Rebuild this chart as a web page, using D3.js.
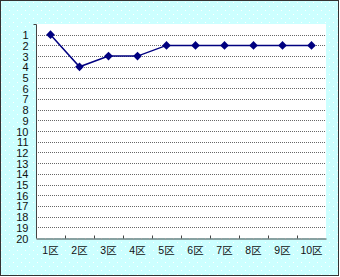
<!DOCTYPE html>
<html>
<head>
<meta charset="utf-8">
<script src="https://cdn.jsdelivr.net/npm/d3@7"></script>
<style>
body { margin: 0; background: #fff; }
text { font-family: "Liberation Sans", Arial, sans-serif; }
</style>
</head>
<body>
<div id="chart"></div>
<script>
var width = 340
var height = 277

var categories = ["1区", "2区", "3区", "4区", "5区", "6区", "7区", "8区", "9区", "10区"]
var ranks = [1, 4, 3, 3, 2, 2, 2, 2, 2, 2]
var yTicks = d3.range(1, 21)

var svg = d3.select("#chart").append("svg")
    .attr("width", width)
    .attr("height", height)

// dotted cyan background
var defs = svg.append("defs")
var pat = defs.append("pattern")
    .attr("id", "dots")
    .attr("width", 8)
    .attr("height", 8)
    .attr("patternUnits", "userSpaceOnUse")
pat.append("rect").attr("width", 8).attr("height", 8).attr("fill", "#ccffff")
pat.append("rect").attr("x", 1).attr("y", 2).attr("width", 1).attr("height", 1).attr("fill", "#ffffff")
pat.append("rect").attr("x", 5).attr("y", 6).attr("width", 1).attr("height", 1).attr("fill", "#ffffff")

svg.append("rect")
    .attr("x", 0.5)
    .attr("y", 0.5)
    .attr("width", width - 2)
    .attr("height", height - 2)
    .attr("fill", "url(#dots)")
    .attr("stroke", "#333")

var plotL = 36, plotR = 326, plotT = 24, plotB = 238

var x = d3.scaleBand()
    .domain(categories)
    .range([plotL, plotR])

var y = d3.scaleLinear()
    .domain([0, 20])
    .range([plotT, plotB])

svg.append("rect")
    .attr("x", plotL)
    .attr("y", plotT)
    .attr("width", plotR - plotL)
    .attr("height", plotB - plotT)
    .attr("fill", "#ffffff")

// grid lines
svg.append("g")
    .selectAll("line")
    .data(yTicks.filter(function(d) { return d < 20 }))
    .enter().append("line")
    .attr("x1", plotL)
    .attr("x2", plotR)
    .attr("y1", function(d) { return Math.round(y(d)) + 0.5 })
    .attr("y2", function(d) { return Math.round(y(d)) + 0.5 })
    .attr("stroke", "#666")
    .attr("stroke-dasharray", "1,1")

// y axis
var yAxis = svg.append("g")
    .attr("transform", "translate(" + (plotL + 0.5) + ",0.5)")
    .call(d3.axisLeft(y).tickValues(yTicks).tickSize(0).tickPadding(8))
yAxis.select(".domain").attr("stroke", "#444").attr("d", "M0," + plotT + "V" + plotB)
yAxis.selectAll("text")
    .attr("font-size", 11)
    .attr("fill", "#111")
    .style("font-family", "Liberation Sans, Arial, sans-serif")
yAxis.append("line")
    .attr("x1", -3).attr("x2", 0)
    .attr("y1", plotT).attr("y2", plotT)
    .attr("stroke", "#444")

// x axis
var xAxis = svg.append("g")
    .attr("transform", "translate(0," + (plotB + 0.5) + ")")
    .call(d3.axisBottom(x).tickSize(0).tickPadding(8))
xAxis.select(".domain").attr("stroke", "#444")
xAxis.selectAll("text")
    .attr("font-size", 10.5)
    .attr("fill", "#111")
    .style("font-family", "Liberation Sans, 'Noto Sans CJK JP', sans-serif")
xAxis.selectAll(".sep")
    .data(categories.slice(1))
    .enter().append("line")
    .attr("class", "sep")
    .attr("x1", function(d) { return Math.round(x(d)) + 0.5 })
    .attr("x2", function(d) { return Math.round(x(d)) + 0.5 })
    .attr("y1", -3)
    .attr("y2", 0)
    .attr("stroke", "#444")

// line
var pts = categories.map(function(c, i) { return [x(c) + x.bandwidth() / 2, y(ranks[i])] })

svg.append("path")
    .attr("d", d3.line()(pts))
    .attr("fill", "none")
    .attr("stroke", "#000080")
    .attr("stroke-width", 1.5)

svg.append("g")
    .selectAll("path")
    .data(pts)
    .enter().append("path")
    .attr("transform", function(d) { return "translate(" + d[0] + "," + d[1] + ")" })
    .attr("d", d3.symbol().type(d3.symbolDiamond2).size(48))
    .attr("fill", "#000080")
</script>
</body>
</html>
